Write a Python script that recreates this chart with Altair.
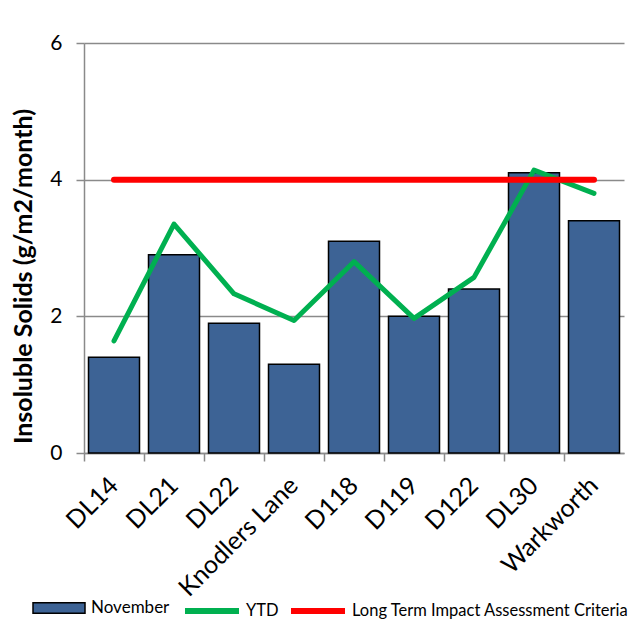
import altair as alt
import pandas as pd

sites = ["DL14", "DL21", "DL22", "Knodlers Lane", "D118", "D119", "D122", "DL30", "Warkworth"]
november = [1.4, 2.9, 1.9, 1.3, 3.1, 2.0, 2.4, 4.1, 3.4]
ytd = [1.64, 3.35, 2.33, 1.94, 2.80, 1.97, 2.57, 4.14, 3.80]
criteria_sites = ["DL14", "Warkworth"]
criteria_values = [4, 4]
criteria_label = "Long Term Impact Assessment Criteria"
y_ticks = [0, 2, 4, 6]
y_title = "Insoluble Solids (g/m2/month)"

FONT = "Lato"

df = pd.DataFrame({"site": sites, "november": november, "ytd": ytd,
                   "bar_series": "November", "series": "YTD"})
crit_df = pd.DataFrame({"site": criteria_sites, "value": criteria_values,
                        "series": criteria_label})

xenc = alt.X("site:N", scale=alt.Scale(domain=sites, paddingInner=0, paddingOuter=0), title=None)
yscale = alt.Scale(domain=[0, 6])

stroke_enc = lambda: alt.Stroke(
    "series:N",
    scale=alt.Scale(domain=["YTD", criteria_label], range=["#00B050", "#FF0000"]),
    legend=alt.Legend(orient="none", direction="horizontal", legendX=98, legendY=538,
                      title=None, symbolType="stroke", symbolSize=2916,
                      symbolStrokeWidth=6, columnPadding=0, labelOffset=4,
                      labelLimit=500,
                      labelFontSize=16.5, labelFont=FONT, labelColor="black"),
)

bars = alt.Chart(df).mark_bar(width=alt.RelativeBandSize(0.85), stroke="black", strokeWidth=1.5).encode(
    x=xenc,
    y=alt.Y("november:Q", scale=yscale, title=y_title, axis=alt.Axis(values=y_ticks, format="d")),
    fill=alt.Fill("bar_series:N",
                  scale=alt.Scale(domain=["November"], range=["#3D6395"]),
                  legend=alt.Legend(orient="none", legendX=-52, legendY=538, title=None,
                                    symbolType="M-1,-0.2H1V0.2H-1Z", symbolSize=2704,
                                    symbolStrokeColor="black", symbolStrokeWidth=1.5,
                                    labelOffset=5, labelFontSize=17, labelFont=FONT,
                                    labelColor="black")),
)

line = alt.Chart(df).mark_line(strokeWidth=5, strokeCap="round", strokeJoin="round").encode(
    x=xenc,
    y=alt.Y("ytd:Q", scale=yscale, title=y_title),
    stroke=stroke_enc(),
)

crit = alt.Chart(crit_df).mark_line(strokeWidth=6, strokeCap="round").encode(
    x=xenc,
    y=alt.Y("value:Q", scale=yscale, title=y_title),
    stroke=stroke_enc(),
)

chart = alt.layer(bars, line, crit).properties(
    width=540, height=410,
    autosize=alt.AutoSizeParams(type="none"),
    padding={"left": 76, "top": 35, "right": 10, "bottom": 169},
).configure_view(stroke=None).configure_axis(
    domainColor="#8a8a8a", domainWidth=1.5, tickColor="#8a8a8a", tickWidth=1.5,
    tickSize=8, labelFont=FONT, labelColor="black", titleFont=FONT, titleColor="black",
).configure_axisY(
    grid=True, gridColor="#8a8a8a", gridWidth=1.5, labelFontSize=21, labelPadding=14,
    titleFontSize=25, titleFontWeight="bold", titleAngle=-90, titleX=-48, titleY=233,
    titleAlign="center", titleBaseline="bottom",
).configure_axisX(
    grid=False, bandPosition=0, labelAngle=-45, labelAlign="right", labelBaseline="middle",
    labelPadding=20, labelFontSize=25,
)

chart.save("out.html", embed_options={"renderer": "svg", "actions": False})
